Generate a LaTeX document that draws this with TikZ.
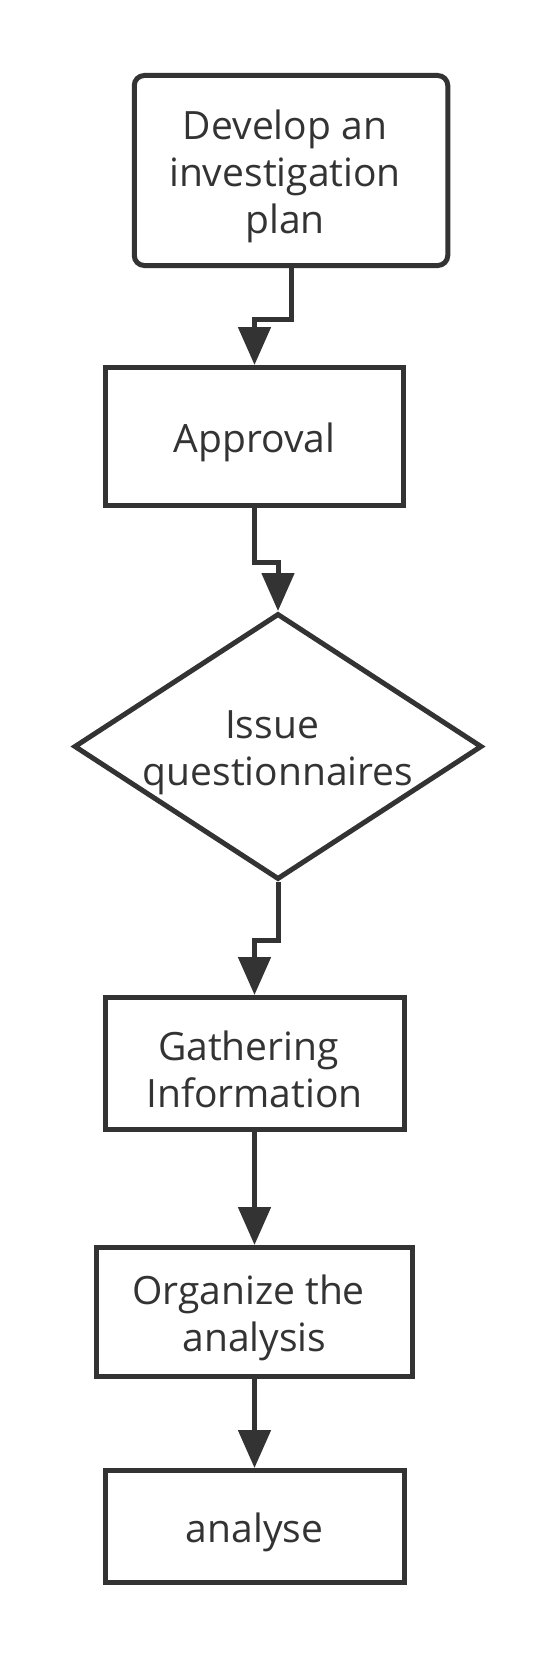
\documentclass[tikz,border=0pt]{standalone}
\usepackage{fontspec}
\setmainfont{Open Sans}
\usetikzlibrary{arrows.meta,shapes.geometric}
\definecolor{ink}{HTML}{333333}
\newcommand{\trsp}{\hspace*{12pt}}
\tikzset{
  box/.style={draw=ink, line width=5pt, fill=white, inner sep=0pt},
  lbl/.style={align=center, inner sep=0pt, font=\fontsize{39}{47}\selectfont, text=ink, yshift=-6pt},
  conn/.style={draw=ink, line width=5pt, -{Triangle[width=32pt,length=38pt]}},
}
\begin{document}
\begin{tikzpicture}[x=1pt,y=-1pt]
\useasboundingbox (0,0) rectangle (558,1659);
\node[box, rounded corners=10pt, minimum width=313.5pt, minimum height=190pt] (dev) at (291,170.5) {};
\node[lbl, xshift=-6pt] (devtxt) at (dev.center) {Develop an\\investigation\\plan};
\node[box, minimum width=297.5pt, minimum height=138pt] (appr) at (254.5,436.5) {};
\node[lbl] (apprtxt) at (appr.center) {Approval};
\node[box, diamond, minimum width=408pt, minimum height=266pt] (issue) at (278,746.5) {};
\node[lbl] (issuetxt) at (issue.center) {Issue\trsp\\questionnaires};
\node[box, minimum width=299pt, minimum height=132pt] (gath) at (254.5,1063.5) {};
\node[lbl] (gathtxt) at (gath.center) {Gathering\trsp\\Information};
\node[box, minimum width=316pt, minimum height=129pt] (org) at (254.5,1312) {};
\node[lbl] (orgtxt) at (org.center) {Organize the\trsp\\analysis};
\node[box, minimum width=299pt, minimum height=112pt] (ana) at (254.5,1526.5) {};
\node[lbl] (anatxt) at (ana.center) {analyse};
\draw[conn] (dev.south) -- ++(0,51.5) -| (appr.north);
\draw[conn] (appr.south) -- ++(0,54.5) -| (issue.north);
\draw[conn] (issue.south) -- ++(0,58) -| (gath.north);
\draw[conn] (gath.south) -- (org.north);
\draw[conn] (org.south) -- (ana.north);
\end{tikzpicture}
\end{document}
